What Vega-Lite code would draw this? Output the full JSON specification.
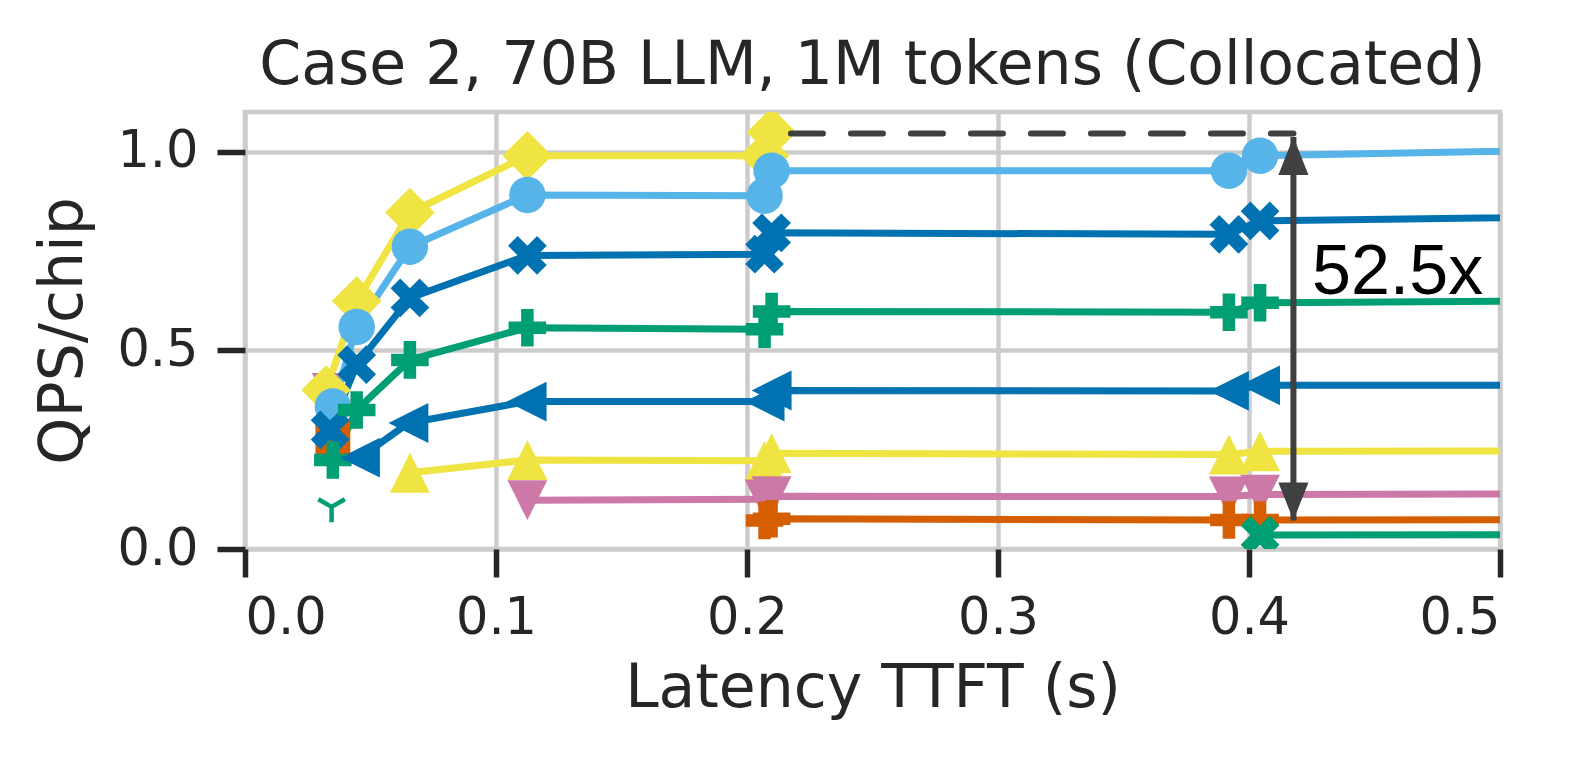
{
  "$schema": "https://vega.github.io/schema/vega-lite/v6.json",
  "autosize": "none",
  "padding": {"left": 245, "top": 112, "right": 78, "bottom": 215},
  "width": 1255,
  "height": 437,
  "background": "white",
  "title": {
    "text": "Case 2, 70B LLM, 1M tokens (Collocated)",
    "font": "DejaVu Sans",
    "fontSize": 60,
    "fontWeight": "normal",
    "color": "#262626",
    "anchor": "middle",
    "frame": "group",
    "baseline": "alphabetic",
    "offset": -32
  },
  "config": {
    "view": {"stroke": "#cccccc", "strokeWidth": 4.5},
    "axis": {
      "labelFont": "DejaVu Sans",
      "labelFontSize": 51,
      "labelColor": "#262626",
      "titleFont": "DejaVu Sans",
      "titleFontSize": 60,
      "titleFontWeight": "normal",
      "titleColor": "#262626",
      "tickColor": "#262626",
      "tickWidth": 5.5,
      "tickSize": 28,
      "gridColor": "#cccccc",
      "gridWidth": 4.5,
      "domain": false
    }
  },
  "datasets": {
    "runs": [
      {"s": "L", "x": 0.0328, "y": 0.404},
      {"s": "I", "x": 0.035, "y": 0.281},
      {"s": "A", "x": 0.0323, "y": 0.400},
      {"s": "A", "x": 0.0445, "y": 0.624},
      {"s": "A", "x": 0.0657, "y": 0.847},
      {"s": "A", "x": 0.1125, "y": 0.990},
      {"s": "A", "x": 0.207, "y": 0.990},
      {"s": "A", "x": 0.2098, "y": 1.049},
      {"s": "B", "x": 0.035, "y": 0.359},
      {"s": "B", "x": 0.0445, "y": 0.559},
      {"s": "B", "x": 0.0657, "y": 0.761},
      {"s": "B", "x": 0.1125, "y": 0.891},
      {"s": "B", "x": 0.207, "y": 0.889},
      {"s": "B", "x": 0.2098, "y": 0.952},
      {"s": "B", "x": 0.392, "y": 0.952},
      {"s": "B", "x": 0.4044, "y": 0.990},
      {"s": "B", "x": 0.8, "y": 1.036},
      {"s": "C", "x": 0.0339, "y": 0.300},
      {"s": "C", "x": 0.0445, "y": 0.464},
      {"s": "C", "x": 0.0657, "y": 0.632},
      {"s": "C", "x": 0.1125, "y": 0.739},
      {"s": "C", "x": 0.207, "y": 0.742},
      {"s": "C", "x": 0.2098, "y": 0.796},
      {"s": "C", "x": 0.392, "y": 0.792},
      {"s": "C", "x": 0.4044, "y": 0.826},
      {"s": "C", "x": 0.8, "y": 0.859},
      {"s": "D", "x": 0.035, "y": 0.224},
      {"s": "D", "x": 0.0445, "y": 0.350},
      {"s": "D", "x": 0.0657, "y": 0.476},
      {"s": "D", "x": 0.1125, "y": 0.557},
      {"s": "D", "x": 0.207, "y": 0.553},
      {"s": "D", "x": 0.2098, "y": 0.598},
      {"s": "D", "x": 0.392, "y": 0.596},
      {"s": "D", "x": 0.4044, "y": 0.620},
      {"s": "D", "x": 0.8, "y": 0.636},
      {"s": "E", "x": 0.0458, "y": 0.230},
      {"s": "E", "x": 0.0651, "y": 0.317},
      {"s": "E", "x": 0.1122, "y": 0.371},
      {"s": "E", "x": 0.207, "y": 0.371},
      {"s": "E", "x": 0.2098, "y": 0.399},
      {"s": "E", "x": 0.392, "y": 0.398},
      {"s": "E", "x": 0.4044, "y": 0.412},
      {"s": "E", "x": 0.8, "y": 0.412},
      {"s": "F", "x": 0.0657, "y": 0.192},
      {"s": "F", "x": 0.1125, "y": 0.224},
      {"s": "F", "x": 0.207, "y": 0.222},
      {"s": "F", "x": 0.2098, "y": 0.241},
      {"s": "F", "x": 0.392, "y": 0.238},
      {"s": "F", "x": 0.4044, "y": 0.246},
      {"s": "F", "x": 0.8, "y": 0.250},
      {"s": "G", "x": 0.1125, "y": 0.123},
      {"s": "G", "x": 0.207, "y": 0.125},
      {"s": "G", "x": 0.2098, "y": 0.133},
      {"s": "G", "x": 0.392, "y": 0.132},
      {"s": "G", "x": 0.4044, "y": 0.137},
      {"s": "G", "x": 0.8, "y": 0.142},
      {"s": "H", "x": 0.207, "y": 0.072},
      {"s": "H", "x": 0.2098, "y": 0.076},
      {"s": "H", "x": 0.392, "y": 0.073},
      {"s": "H", "x": 0.4044, "y": 0.073},
      {"s": "H", "x": 0.8, "y": 0.075},
      {"s": "J", "x": 0.4044, "y": 0.035},
      {"s": "J", "x": 0.8, "y": 0.038},
      {"s": "K", "x": 0.0345, "y": 0.106}
    ],
    "gap": [{"x": 0.2175, "x2": 0.4177, "y": 1.046}],
    "arrow": [{"x": 0.4177, "lo": 0.072, "hi": 1.037}],
    "note": [{"x": 0.4251, "y": 0.6407, "label": "52.5x"}]
  },
  "layer": [
    {
      "data": {"name": "runs"},
      "mark": {"type": "line", "strokeWidth": 7, "clip": true},
      "encoding": {
        "x": {
          "field": "x", "type": "quantitative",
          "scale": {"domain": [0, 0.5], "nice": false},
          "axis": {"values": [0, 0.1, 0.2, 0.3, 0.4, 0.5], "format": ".1f", "labelPadding": 16, "titlePadding": 16, "title": "Latency TTFT (s)"}
        },
        "y": {
          "field": "y", "type": "quantitative",
          "scale": {"domain": [0, 1.1], "nice": false},
          "axis": {"values": [0, 0.5, 1.0], "format": ".1f", "labelPadding": 19, "titlePadding": 22, "title": "QPS/chip"}
        },
        "color": {
          "field": "s", "type": "nominal", "legend": null,
          "scale": {
            "domain": ["L", "I", "A", "B", "C", "D", "E", "F", "G", "H", "J", "K"],
            "range": ["#CC79A7", "#D55E00", "#F0E442", "#56B4E9", "#0072B2", "#009E73", "#0072B2", "#F0E442", "#CC79A7", "#D55E00", "#009E73", "#009E73"]
          }
        },
        "detail": {"field": "s"}
      }
    },
    {
      "data": {"name": "runs"},
      "transform": [{"filter": "datum.s !== 'K'"}],
      "mark": {"type": "point", "filled": true, "opacity": 1, "size": 1500, "clip": true},
      "encoding": {
        "x": {"field": "x", "type": "quantitative"},
        "y": {"field": "y", "type": "quantitative"},
        "color": {"field": "s", "type": "nominal", "legend": null},
        "shape": {
          "field": "s", "type": "nominal", "legend": null,
          "scale": {
            "domain": ["L", "I", "A", "B", "C", "D", "E", "F", "G", "H", "J", "K"],
            "range": [
              "M0,0.8L0.8,-0.8L-0.8,-0.8Z",
              "M-0.9,-0.9L0.9,-0.9L0.9,0.9L-0.9,0.9Z",
              "M0,-1.28L1.28,0L0,1.28L-1.28,0Z",
              "M0.94,0A0.94,0.94,0,1,1,-0.94,0A0.94,0.94,0,1,1,0.94,0Z",
              "M-0.5,-1L0,-0.5L0.5,-1L1,-0.5L0.5,0L1,0.5L0.5,1L0,0.5L-0.5,1L-1,0.5L-0.5,0L-1,-0.5Z",
              "M-0.97,-0.323L-0.323,-0.323L-0.323,-0.97L0.323,-0.97L0.323,-0.323L0.97,-0.323L0.97,0.323L0.323,0.323L0.323,0.97L-0.323,0.97L-0.323,0.323L-0.97,0.323Z",
              "M-1.03,0L1.03,-1.03L1.03,1.03Z",
              "M0,-1.03L1.03,1.03L-1.03,1.03Z",
              "M0,1.03L1.03,-1.03L-1.03,-1.03Z",
              "M-0.97,-0.323L-0.323,-0.323L-0.323,-0.97L0.323,-0.97L0.323,-0.323L0.97,-0.323L0.97,0.323L0.323,0.323L0.323,0.97L-0.323,0.97L-0.323,0.323L-0.97,0.323Z",
              "M-0.5,-1L0,-0.5L0.5,-1L1,-0.5L0.5,0L1,0.5L0.5,1L0,0.5L-0.5,1L-1,0.5L-0.5,0L-1,-0.5Z",
              "M0,0L0,0.79M0,0L-0.684,-0.395M0,0L0.684,-0.395"
            ]
          }
        }
      }
    },
    {
      "data": {"name": "runs"},
      "transform": [{"filter": "datum.s === 'K'"}],
      "mark": {"type": "point", "filled": false, "opacity": 1, "size": 1500, "strokeWidth": 4.5, "clip": true},
      "encoding": {
        "x": {"field": "x", "type": "quantitative"},
        "y": {"field": "y", "type": "quantitative"},
        "color": {"field": "s", "type": "nominal", "legend": null},
        "shape": {"field": "s", "type": "nominal", "legend": null}
      }
    },
    {
      "data": {"name": "gap"},
      "mark": {"type": "rule", "color": "#404040", "strokeWidth": 6, "strokeDash": [32, 28], "strokeCap": "round"},
      "encoding": {
        "x": {"field": "x", "type": "quantitative"},
        "x2": {"field": "x2"},
        "y": {"field": "y", "type": "quantitative"}
      }
    },
    {
      "data": {"name": "arrow"},
      "mark": {"type": "rule", "color": "#404040", "strokeWidth": 6},
      "encoding": {
        "x": {"field": "x", "type": "quantitative"},
        "y": {"field": "lo", "type": "quantitative"},
        "y2": {"field": "hi"}
      }
    },
    {
      "data": {"name": "arrow"},
      "mark": {"type": "point", "filled": true, "opacity": 1, "color": "#404040", "size": 1024, "shape": "M0,0L0.94,2.375L-0.94,2.375Z"},
      "encoding": {
        "x": {"field": "x", "type": "quantitative"},
        "y": {"field": "hi", "type": "quantitative"}
      }
    },
    {
      "data": {"name": "arrow"},
      "mark": {"type": "point", "filled": true, "opacity": 1, "color": "#404040", "size": 1024, "shape": "M0,0L0.94,-2.375L-0.94,-2.375Z"},
      "encoding": {
        "x": {"field": "x", "type": "quantitative"},
        "y": {"field": "lo", "type": "quantitative"}
      }
    },
    {
      "data": {"name": "note"},
      "mark": {"type": "text", "font": "Liberation Sans", "fontSize": 70, "color": "black", "align": "left", "baseline": "alphabetic"},
      "encoding": {
        "x": {"field": "x", "type": "quantitative"},
        "y": {"field": "y", "type": "quantitative"},
        "text": {"field": "label"}
      }
    }
  ]
}
